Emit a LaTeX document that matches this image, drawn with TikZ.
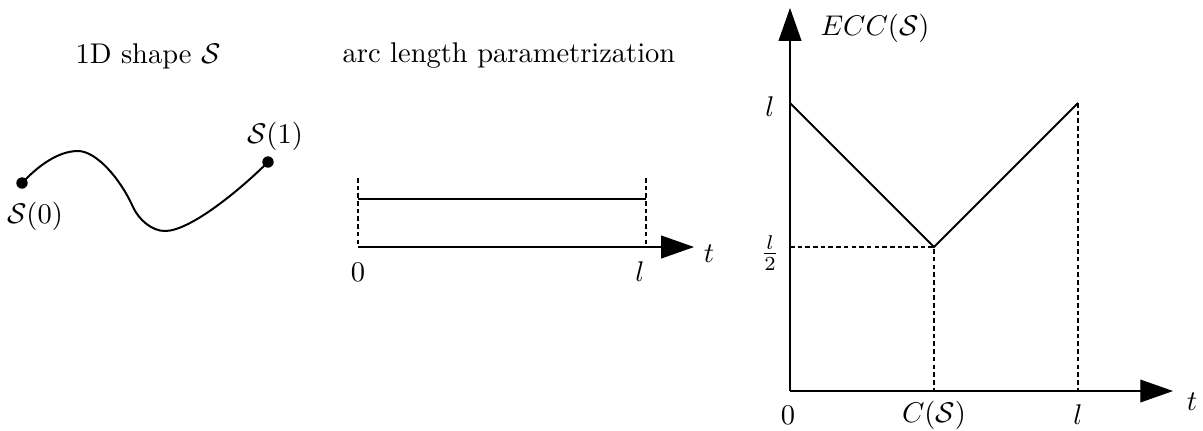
\documentclass[tikz,border=0pt]{standalone}
\usepackage{tikz}
\usetikzlibrary{arrows.meta, positioning, calc}

\begin{document}
\begin{tikzpicture}[
        x=0.351pt, y=-0.351pt,
        axis/.style={-{Triangle[length=11.5pt, width=8pt]}, line width=0.4pt},
        guide/.style={dash pattern=on 1.6pt off 1.1pt, line width=0.4pt},
        graph/.style={line width=0.7pt},
        dot/.style={circle, fill=black, inner sep=0pt, minimum size=4pt},
        lab/.style={inner sep=0pt}
    ]
        \useasboundingbox (0,0) rectangle (1203,430);

        % 1D shape
        \node[lab] (title1) at (148,56) {1D shape $\mathcal{S}$};
        \node[dot] (s0) at (22,183) {};
        \node[dot] (s1) at (268,162) {};
        \draw[graph] (s0.center) .. controls (38,166) and (58,151) .. (78,151)
            .. controls (96,151) and (120,178) .. (133,207)
            .. controls (139,220) and (152,231) .. (165,231)
            .. controls (190,231) and (240,190) .. (s1.center);
        \node[lab] (s0lab) at (35,216) {$\mathcal{S}(0)$};
        \node[lab] (s1lab) at (275,136) {$\mathcal{S}(1)$};

        % arc length parametrization
        \node[lab] (title2) at (509,56) {arc length parametrization};
        \coordinate (o1) at (358,247);
        \coordinate (l1) at (646,247);
        \coordinate (t1) at (694,247);
        \coordinate (o1top) at (358,178);
        \coordinate (l1top) at (646,178);
        \coordinate (a1) at (358,199);
        \coordinate (b1) at (646,199);
        \draw[axis] (o1) -- (t1);
        \draw[guide] (o1top) -- (o1);
        \draw[guide] (l1top) -- (l1);
        \draw[graph] (a1) -- (b1);
        \node[lab] (zero1) at (358,272) {$0$};
        \node[lab] (ell1) at (640,272) {$l$};
        \node[lab] (tee1) at (709,254) {$t$};

        % ECC
        \coordinate (o2) at (790,391);
        \coordinate (ytip) at (790,8);
        \coordinate (xtip) at (1173,391);
        \coordinate (top1) at (790,103);
        \coordinate (cmin) at (934,247);
        \coordinate (top2) at (1078,103);
        \coordinate (half) at (790,247);
        \coordinate (cbase) at (934,391);
        \coordinate (lbase) at (1078,391);
        \draw[axis] (o2) -- (ytip);
        \draw[axis] (o2) -- (xtip);
        \draw[graph] (top1) -- (cmin) -- (top2);
        \draw[guide] (half) -- (cmin) -- (cbase);
        \draw[guide] (top2) -- (lbase);
        \node[lab] (ecc) at (875,28) {$ECC(\mathcal{S})$};
        \node[lab] (ell2) at (770,107) {$l$};
        \node[lab] (half2) at (770,253) {$\frac{l}{2}$};
        \node[lab] (zero2) at (788,415) {$0$};
        \node[lab] (cs) at (934,415) {$C(\mathcal{S})$};
        \node[lab] (ell3) at (1078,415) {$l$};
        \node[lab] (tee2) at (1192,402) {$t$};
    \end{tikzpicture}
\end{document}
